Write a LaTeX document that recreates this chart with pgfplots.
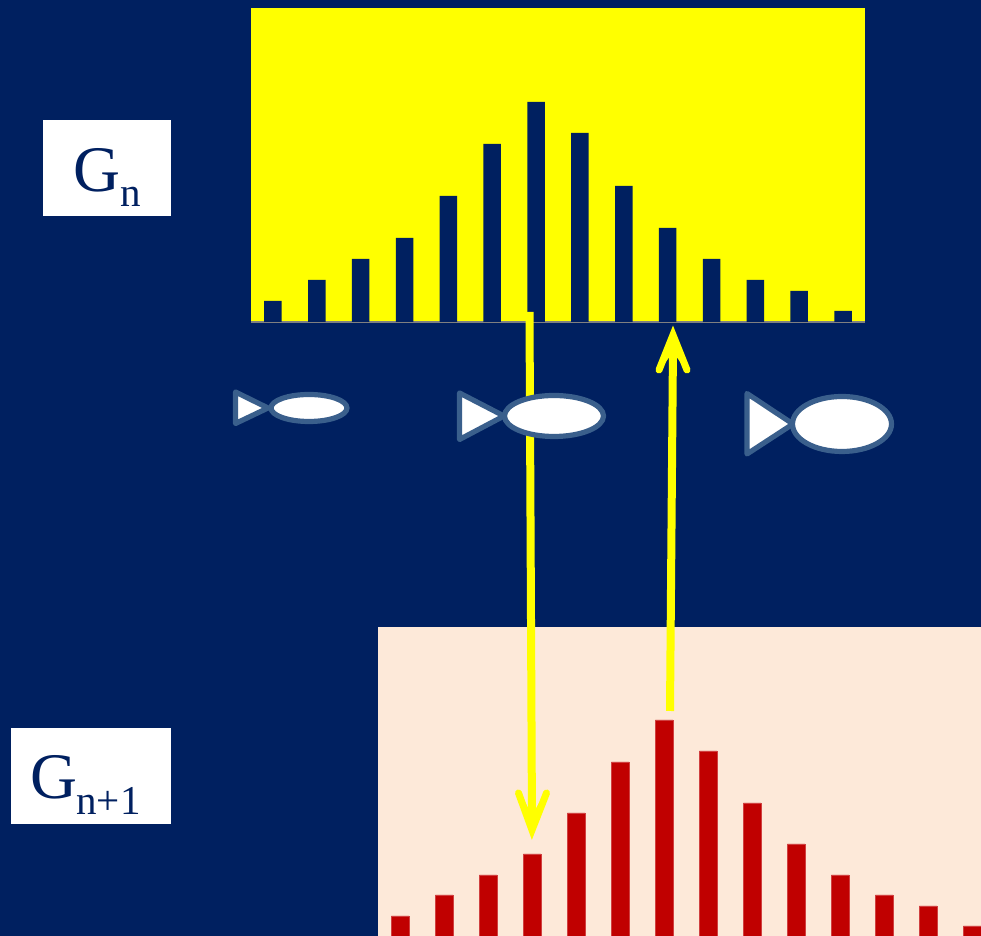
\documentclass[border=0pt]{standalone}
\usepackage{fontspec}
\setmainfont{Liberation Serif}
\usepackage{pgfplots}
\pgfplotsset{compat=1.18}
\definecolor{navy}{RGB}{0,32,96}
\definecolor{peach}{RGB}{253,233,217}
\definecolor{darkred}{RGB}{192,0,0}
\definecolor{fishline}{RGB}{58,95,140}
\definecolor{baseline}{RGB}{128,128,128}
\definecolor{brightyellow}{RGB}{255,255,0}

\pgfplotsset{hist/.style={
  scale only axis, ybar, ymin=0,
  xtick=\empty, ytick=\empty,
  axis y line=none,
  clip=true,
}}
\tikzset{
  fish/.style={draw=fishline, fill=white, line width=2.6pt, line join=round},
  barrow/.style={draw=brightyellow, line width=4pt},
  bhead/.style={draw=brightyellow, line width=3.5pt, line cap=round, line join=miter, miter limit=10},
  lab/.style={inner sep=0pt, anchor=base west, text=navy},
}

\begin{document}
\begin{tikzpicture}
\clip (0,0) rectangle (490.5pt,468pt);
\fill[navy] (0,0) rectangle (490.5pt,468pt);

% generation n
\begin{axis}[hist,
  at={(125.5pt,307pt)}, anchor=south west,
  width=307pt, height=157pt,
  xmin=0.5, xmax=14.5, ymax=314,
  axis x line=bottom,
  axis line style={draw=baseline, line width=1.25pt, -},
  axis background/.style={fill=brightyellow},
  bar width=8.75pt,
]
\addplot[fill=navy, draw=none] coordinates {
(1,21)(2,42)(3,63)(4,84)(5,126)(6,178)(7,220)
(8,189)(9,136)(10,94)(11,63)(12,42)(13,31)(14,11)
};
\end{axis}

% generation n+1
\begin{axis}[hist,
  at={(189pt,0pt)}, anchor=south west,
  width=301.5pt, height=154.5pt,
  xmin=0.5, xmax=14.2, ymax=309,
  axis x line=none,
  axis background/.style={fill=peach},
  bar width=8.75pt,
]
\addplot[fill=darkred, draw=darkred!75!white, line width=0.25pt] coordinates {
(1,20)(2,41)(3,61)(4,82)(5,123)(6,174)(7,216)
(8,185)(9,133)(10,92)(11,61)(12,41)(13,30)(14,10)
};
\end{axis}

% arrows, fish and labels in reference pixels
\begin{scope}[shift={(0,468pt)}, x=0.5pt, y=-0.5pt]
  \draw[barrow] (529.5,312) -- (532,825);
  \fill[brightyellow] (520,793) -- (532,830) -- (545,793) -- (532,815) -- cycle;
  \draw[bhead] (518.5,793) -- (532,830) -- (546.5,793);
  \draw[barrow] (670,711) -- (673,345);
  \fill[brightyellow] (660,370) -- (673,335) -- (686,370) -- (673,352) -- cycle;
  \draw[bhead] (659,370) -- (673,335) -- (687,370);

  \draw[fish] (235.5,392) -- (235.5,423.5) -- (268,408) -- cycle;
  \draw[fish] (309,408) ellipse [x radius=38, y radius=13.5];
  \draw[fish] (459.5,393) -- (459.5,439.5) -- (504,416) -- cycle;
  \draw[fish] (554,416) ellipse [x radius=49.5, y radius=20.5];
  \draw[fish] (747,393.5) -- (747,454) -- (793,424) -- cycle;
  \draw[fish] (842,424) ellipse [x radius=49.5, y radius=27.5];

  \fill[white] (43,120) rectangle (171,216);
  \node[lab, font=\fontsize{32.5pt}{36pt}\selectfont] at (73,192) {G};
  \node[lab, font=\fontsize{20.5pt}{24pt}\selectfont] at (120,207) {n};
  \fill[white] (11,728) rectangle (171,824);
  \node[lab, font=\fontsize{32.5pt}{36pt}\selectfont] at (30,799) {G};
  \node[lab, font=\fontsize{20.5pt}{24pt}\selectfont] at (76,815) {n+1};
\end{scope}
\end{tikzpicture}
\end{document}
